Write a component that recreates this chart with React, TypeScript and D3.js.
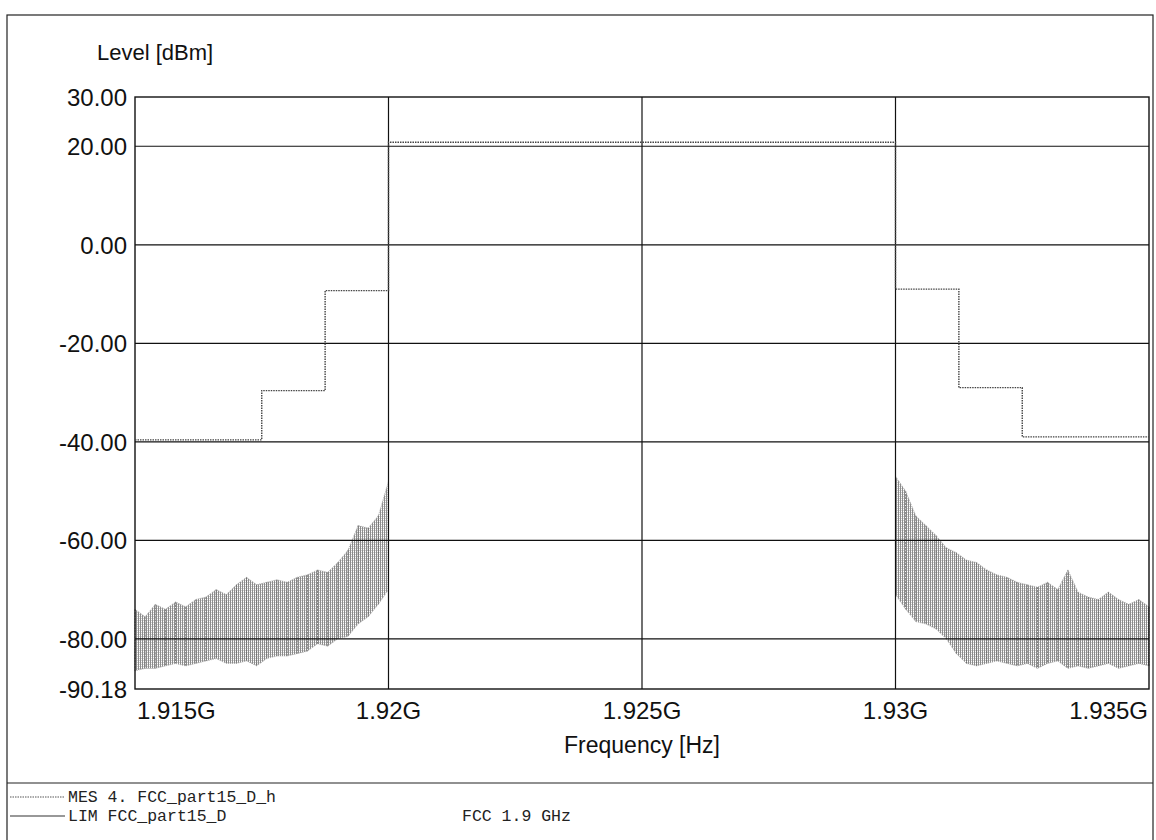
import React from "react";
import * as d3 from "d3";

// ---- axis ticks ----
const yTicks = [30, 20, 0, -20, -40, -60, -80, -90.18];
const yGrid = [20, 0, -20, -40, -60, -80];
const xTicks = [1.915, 1.92, 1.925, 1.93, 1.935];
const xTickLabels = ["1.915G", "1.92G", "1.925G", "1.93G", "1.935G"];
const xGrid = [1.92, 1.925, 1.93];

// ---- limit line (FCC_part15_D) ----
const limitFreq = [1.915, 1.9175, 1.9175, 1.91875, 1.91875, 1.92, 1.92, 1.93, 1.93, 1.93125, 1.93125, 1.9325, 1.9325, 1.935];
const limitLevel = [-39.6, -39.6, -29.6, -29.6, -9.3, -9.3, 20.8, 20.8, -9.0, -9.0, -29.0, -29.0, -39.0, -39.0];

// ---- measurement envelope, lower band (1.915 - 1.92 GHz) ----
const lowFreq = [1.915, 1.9152, 1.9154, 1.9156, 1.9158, 1.916, 1.9162, 1.9164, 1.9166, 1.9168, 1.917, 1.9172, 1.9174, 1.9176, 1.9178, 1.918, 1.9182, 1.9184, 1.9186, 1.9188, 1.919, 1.9192, 1.9194, 1.9196, 1.9198, 1.92];
const lowMax = [-74, -75.5, -73, -74, -72.5, -73.5, -72, -71.5, -70, -71, -69, -67.5, -69, -68.5, -68, -68.5, -67.5, -67, -66, -66.5, -64.5, -62, -57, -57.5, -55, -48];
const lowMin = [-86.5, -86, -86, -85.5, -85, -85.5, -85, -84.5, -84, -85, -85, -84.5, -85.5, -84, -83.5, -83.5, -83, -82.5, -81, -81.5, -80, -79.5, -77, -75.5, -73, -70];

// ---- measurement envelope, upper band (1.93 - 1.935 GHz) ----
const highFreq = [1.93, 1.9302, 1.9304, 1.9306, 1.9308, 1.931, 1.9312, 1.9314, 1.9316, 1.9318, 1.932, 1.9322, 1.9324, 1.9326, 1.9328, 1.933, 1.9332, 1.9334, 1.9336, 1.9338, 1.934, 1.9342, 1.9344, 1.9346, 1.9348, 1.935];
const highMax = [-47, -50, -55, -57, -59, -61.5, -62.5, -64, -64.5, -66, -67, -67.5, -68.5, -69, -69.5, -68.5, -70, -66, -70.5, -71.5, -72, -70.5, -72, -73, -72, -73.5];
const highMin = [-71, -74, -76.5, -77, -78, -80, -83, -85, -85.5, -85, -84.5, -85, -85.5, -85, -86, -85, -84.5, -86, -85.5, -86, -85.5, -85, -86, -85.5, -85, -85.5];

const W = 1156;
const H = 840;
const PL = 135, PR = 1149, PT = 97, PB = 689;

export default function App() {
  const x = d3.scaleLinear().domain([1.915, 1.935]).range([PL, PR]);
  const y = d3.scaleLinear().domain([-90.18, 30]).range([PB, PT]);

  const area = d3
    .area<[number, number, number]>()
    .x((d) => x(d[0]))
    .y0((d) => y(d[2]))
    .y1((d) => y(d[1]))
    .curve(d3.curveLinear);
  const topLine = d3
    .line<[number, number, number]>()
    .x((d) => x(d[0]))
    .y((d) => y(d[1]));
  const botLine = d3
    .line<[number, number, number]>()
    .x((d) => x(d[0]))
    .y((d) => y(d[2]));

  const lowData = lowFreq.map((f, i) => [f, lowMax[i], lowMin[i]] as [number, number, number]);
  const highData = highFreq.map((f, i) => [f, highMax[i], highMin[i]] as [number, number, number]);

  const limLine = d3
    .line<number>()
    .x((_, i) => x(limitFreq[i]))
    .y((d) => y(d));

  const sans = "'Liberation Sans', Arial, sans-serif";
  const mono = "'Liberation Mono', 'Courier New', monospace";

  const trace = (data: [number, number, number][], key: string) => (
    <g key={key}>
      <path d={area(data) || ""} fill="url(#hatch)" stroke="none" />
      {data.map((d, i) => (
        <line
          key={key + i}
          x1={x(d[0])}
          x2={x(d[0])}
          y1={y(d[1])}
          y2={y(d[2])}
          stroke="#666"
          strokeWidth={0.8}
          strokeDasharray="2,1"
        />
      ))}
      <path d={topLine(data) || ""} fill="none" stroke="#aaa" strokeWidth={0.8} strokeDasharray="1,1" />
      <path d={botLine(data) || ""} fill="none" stroke="#aaa" strokeWidth={0.8} strokeDasharray="1,1" />
    </g>
  );

  return (
    <svg width={W} height={H} style={{ position: "absolute", left: 0, top: 0, background: "#fff" }}>
      <defs>
        <pattern id="hatch" width="2" height="2" patternUnits="userSpaceOnUse">
          <rect x="0" y="0" width="2" height="2" fill="#fff" />
          <rect x="0" y="0" width="1" height="2" fill="#8c8c8c" />
          <rect x="1" y="0" width="1" height="1" fill="#d0d0d0" />
        </pattern>
      </defs>
      <rect x={0} y={0} width={W} height={H} fill="#fff" />

      {/* outer frame */}
      <rect x={7} y={15} width={1146} height={840} fill="none" stroke="#222" strokeWidth={1.2} />
      <line x1={7} x2={1153} y1={783} y2={783} stroke="#222" strokeWidth={1.2} />

      {/* measurement trace */}
      {trace(lowData, "low")}
      {trace(highData, "high")}

      {/* grid */}
      {yGrid.map((v) => (
        <line key={"yg" + v} x1={PL} x2={PR} y1={y(v)} y2={y(v)} stroke="#111" strokeWidth={1.2} />
      ))}
      {xGrid.map((v) => (
        <line key={"xg" + v} x1={x(v)} x2={x(v)} y1={PT} y2={PB} stroke="#111" strokeWidth={1.2} />
      ))}
      <rect x={PL} y={PT} width={PR - PL} height={PB - PT} fill="none" stroke="#111" strokeWidth={1.4} />

      {/* limit line */}
      <path d={limLine(limitLevel) || ""} fill="none" stroke="#444" strokeWidth={1.4} strokeDasharray="1.5,1" />

      {/* y axis labels */}
      <text x={97} y={60} fontFamily={sans} fontSize={22} fill="#111">Level [dBm]</text>
      {yTicks.map((v) => (
        <text key={"yt" + v} x={127} y={y(v) + 9} textAnchor="end" fontFamily={sans} fontSize={24} fill="#111">
          {v.toFixed(2)}
        </text>
      ))}

      {/* x axis labels */}
      {xTicks.map((v, i) => (
        <text
          key={"xt" + v}
          x={i === 0 ? x(v) + 2 : i === xTicks.length - 1 ? x(v) - 1 : x(v)}
          y={719}
          textAnchor={i === 0 ? "start" : i === xTicks.length - 1 ? "end" : "middle"}
          fontFamily={sans}
          fontSize={24}
          fill="#111"
        >
          {xTickLabels[i]}
        </text>
      ))}
      <text x={(PL + PR) / 2} y={753} textAnchor="middle" fontFamily={sans} fontSize={23} fill="#111">
        Frequency [Hz]
      </text>

      {/* legend */}
      <line x1={10} x2={65} y1={797} y2={797} stroke="#555" strokeWidth={1.2} strokeDasharray="1.5,1" />
      <text x={68} y={802} fontFamily={mono} fontSize={16.5} fill="#222" xmlSpace="preserve">MES 4. FCC_part15_D_h</text>
      <line x1={10} x2={65} y1={816} y2={816} stroke="#333" strokeWidth={1.2} />
      <text x={68} y={821} fontFamily={mono} fontSize={16.5} fill="#222" xmlSpace="preserve">LIM FCC_part15_D</text>
      <text x={462} y={821} fontFamily={mono} fontSize={16.5} fill="#222" xmlSpace="preserve">FCC 1.9 GHz</text>
    </svg>
  );
}
